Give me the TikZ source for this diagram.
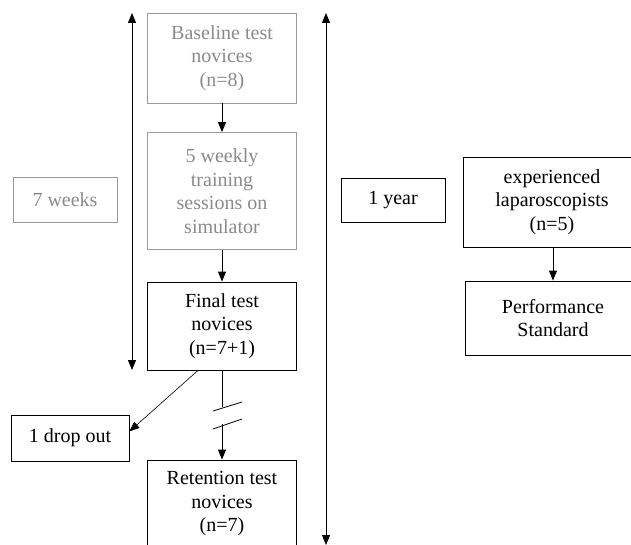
\documentclass[tikz,border=0pt]{standalone}
\usepackage{fontspec}
\setmainfont{Liberation Serif}
\usetikzlibrary{arrows.meta,calc}
\definecolor{lightgraytext}{HTML}{8A8A8A}
\definecolor{lightgrayline}{HTML}{9A9A9A}
\tikzset{
  box/.style={draw=black, line width=0.8pt, align=center, inner sep=0pt,
    font=\fontsize{20}{23.5}\selectfont, text=black},
  graybox/.style={box, draw=lightgrayline, text=lightgraytext},
  conn/.style={line width=0.9pt, -{Triangle[length=10pt,width=8pt]}},
  dconn/.style={line width=0.9pt, {Triangle[length=10pt,width=8pt]}-{Triangle[length=10pt,width=8pt]}},
  plain/.style={line width=0.8pt}
}
\begin{document}
\begin{tikzpicture}[x=1pt,y=-1pt]
\useasboundingbox (0,0) rectangle (631,545);
\clip (0,0) rectangle (631,545);
\node[graybox, minimum width=149pt, minimum height=90pt] (base) at (222,58) {Baseline test\\novices\\(n=8)};
\node[graybox, minimum width=149pt, minimum height=117pt] (train) at (222,191) {5 weekly\\training\\sessions on\\simulator};
\node[box, minimum width=149pt, minimum height=88pt] (final) at (222,326) {Final test\\novices\\(n=7+1)};
\node[graybox, minimum width=104pt, minimum height=45pt] (weeks) at (65,200) {7 weeks};
\node[box, minimum width=104pt, minimum height=44pt] (year) at (393,200) {1 year};
\node[box, minimum width=178pt, minimum height=90pt] (exp) at (552,202) {experienced\\laparoscopists\\(n=5)};
\node[box, minimum width=176pt, minimum height=74pt] (perf) at (553,318) {Performance\\Standard};
\node[box, minimum width=118pt, minimum height=46pt] (drop) at (70,438) {1 drop out};
\node[box, minimum width=149pt, minimum height=88pt] (ret) at (222,504) {Retention test\\novices\\(n=7)};

\coordinate (ltop) at (132,13);
\coordinate (lbot) at (132,370);
\coordinate (rtop) at (326,13);
\coordinate (rbot) at (326,545);
\draw[dconn] (lbot) -- (ltop);
\draw[dconn] (rbot) -- (rtop);

\draw[conn] (base) -- (train);
\draw[conn] (train) -- (final);
\draw[conn] (exp.south -| perf.north) -- (perf.north);

\coordinate (dstart) at ($(final.south west)!0.34!(final.south east)$);
\coordinate (dend) at ($(drop.north east)!0.36!(drop.south east)$);
\draw[conn, line width=0.6pt] (dstart) -- (dend);

\coordinate (b1) at (222,406.5);
\coordinate (b2) at (222,424);
\draw[plain] (final.south) -- (b1);
\draw[plain] (213,411) -- (242,402);
\draw[plain] (213,429) -- (242,419);
\draw[conn] (b2) -- (ret.north);
\end{tikzpicture}
\end{document}
